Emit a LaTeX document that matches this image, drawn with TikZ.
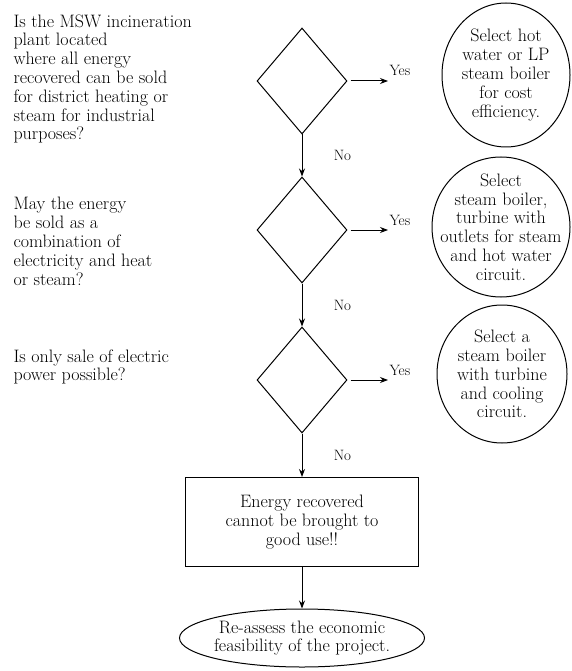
\documentclass[tikz,border=0pt]{standalone}
\usetikzlibrary{shapes.geometric,arrows.meta}

\newcommand{\qfont}{\fontsize{18}{18.8}\selectfont}
\newcommand{\lfont}{\fontsize{15}{16}\selectfont}

\tikzset{
  flow/.style={-{Stealth[length=8pt,width=6pt]}, line width=1pt},
  question/.style={anchor=north west, align=left, inner sep=0pt, font=\qfont},
  answer/.style={ellipse, draw, align=center, inner sep=-20pt, font=\qfont},
  yeslabel/.style={anchor=base west, yshift=5pt, inner sep=1pt, font=\lfont},
  nolabel/.style={right, xshift=28pt, font=\lfont}
}

\begin{document}
\begin{tikzpicture}[x=1pt, y=-1pt, line width=1pt]
    \useasboundingbox (0,0) rectangle (571,671);

    \begin{scope}[every node/.style={diamond,draw,minimum width=90pt,minimum height=106pt,inner sep=0pt}]
        \node (D1) at (302,81) {};
        \node (D2) at (302,230) {};
        \node (D3) at (302,380) {};
    \end{scope}

    % Fragen
    \node[question] (Q1) at (13,14) {Is the MSW incineration\\ plant located\\ where all energy\\ recovered can be sold\\ for district heating or\\ steam for industrial\\ purposes?};
    \node[question] (Q2) at (13,197) {May the energy\\ be sold as a\\ combination of\\ electricity and heat\\ or steam?};
    \node[question] (Q3) at (13,349) {Is only sale of electric\\ power possible?};

    % Antworten
    \node[answer, minimum width=128pt, minimum height=144pt] (A1) at (506,75) {Select hot\\ water or LP\\ steam boiler\\ for cost\\ efficiency.};
    \node[answer, minimum width=138pt, minimum height=140pt] (A2) at (501,227) {Select\\ steam boiler,\\ turbine with\\ outlets for steam\\ and hot water\\ circuit.};
    \node[answer, minimum width=130pt, minimum height=138pt] (A3) at (502,374) {Select a\\ steam boiler\\ with turbine\\ and cooling\\ circuit.};

    \node[draw, minimum width=233pt, minimum height=89pt, align=center, font=\qfont] (R) at (302,522) {Energy recovered\\ cannot be brought to\\ good use!!};
    \node[ellipse, draw, minimum width=245pt, minimum height=58pt, inner xsep=-14pt, inner ysep=0pt, align=center, font=\qfont] (E) at (302,638) {Re-assess the economic\\ feasibility of the project.};

    \coordinate (Y1) at (388,81);
    \coordinate (Y2) at (388,230);
    \coordinate (Y3) at (388,380);

    % Relationen
    \draw[flow, shorten <=3pt] (D1.east) -- (Y1) node[yeslabel] {Yes};
    \draw[flow, shorten <=3pt] (D2.east) -- (Y2) node[yeslabel] {Yes};
    \draw[flow, shorten <=3pt] (D3.east) -- (Y3) node[yeslabel] {Yes};
    \draw[flow] (D1.south) -- node[nolabel] {No} (D2.north);
    \draw[flow] (D2.south) -- node[nolabel] {No} (D3.north);
    \draw[flow] (D3.south) -- node[nolabel] {No} (R.north);
    \draw[flow] (R.south) -- (E.north);
\end{tikzpicture}
\end{document}
